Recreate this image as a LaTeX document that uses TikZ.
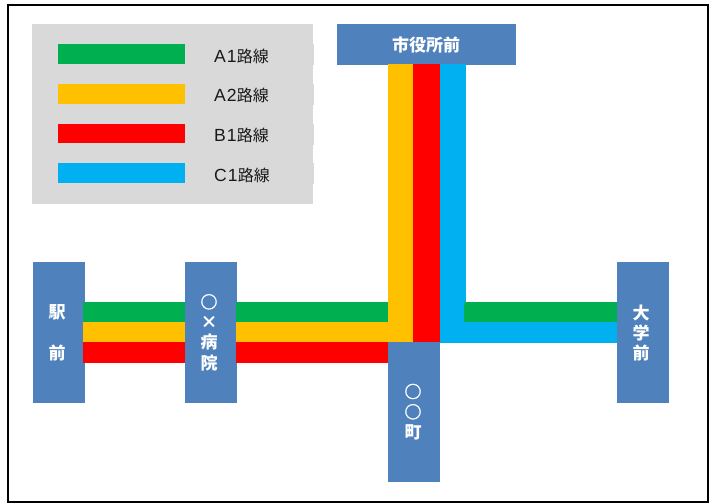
\documentclass[tikz,border=0pt]{standalone}
\usepackage{fontspec}
\setmainfont{Noto Sans CJK JP}
\newfontfamily\latinfont[LetterSpace=6,Scale=1.1]{Liberation Sans}
\newfontfamily\ringfont[FakeBold=1.5]{Noto Sans CJK JP}
\newcommand{\ringmark}{{\ringfont ○}}

\definecolor{lineGreen}{HTML}{00B050}
\definecolor{lineYellow}{HTML}{FFC000}
\definecolor{lineRed}{HTML}{FF0000}
\definecolor{lineBlue}{HTML}{00B0F0}
\definecolor{stationBlue}{HTML}{4F81BD}
\definecolor{legendGray}{HTML}{D9D9D9}

\begin{document}
\begin{tikzpicture}[x=1pt,y=-1pt]
% ---------------------------------------------------------
% Dimensions (reference pixels, y downwards)
% ---------------------------------------------------------
\def\RowA{302}     % top of green band
\def\RowB{322}     % top of yellow band
\def\RowC{342}     % top of red band
\def\RowD{363}     % bottom of red band
\def\ColA{388}     % left of yellow riser
\def\ColB{413}     % left of red riser
\def\ColC{439.5}   % left of blue riser
\def\ColD{466}     % right of blue riser
\def\RiserTop{64}  % top of the risers

% ---------------------------------------------------------
% Styles
% ---------------------------------------------------------
\tikzset{
  station box/.style={fill=stationBlue, inner sep=0pt, minimum width=52pt},
  station text/.style={text=white, align=center, inner sep=0pt,
    font=\fontsize{17}{20.3}\selectfont\bfseries},
  legend text/.style={anchor=west, inner sep=0pt, text=black!90,
    font=\fontsize{16}{16}\selectfont}
}

\useasboundingbox (0,0) rectangle (709,503);

% =========================================================
% 1) OUTER FRAME
% =========================================================
\draw[line width=2pt] (8,5) rectangle (708,501.5);

% =========================================================
% 2) LEGEND
% =========================================================
\fill[legendGray] (32,24) rectangle (313,204);
\foreach \y/\h/\c/\n/\t/\ty in {44/20/lineGreen/a/A1/56, 84/20/lineYellow/b/A2/95,
    124/19/lineRed/c/B1/135, 163/20/lineBlue/d/C1/175} {
  \fill[legendGray] (300,\y) rectangle (314,\y+21);
  \fill[\c] (58,\y) rectangle (185,\y+\h);
  \node[legend text] (legend\n) at (214,\ty) {{\latinfont\t}路線};
}

% =========================================================
% 3) STATIONS
% =========================================================
\node[station box, minimum height=141pt] (ekimae) at (59,332.5) {};
\node[station box, minimum height=141pt] (hospital) at (211,332.5) {};
\node[station box, minimum height=140pt] (town) at (414,412) {};
\node[station box, minimum height=141pt] (university) at (643,332.5) {};
\node[station box, minimum width=179pt, minimum height=41pt] (cityhall) at (426.5,44.5) {};

% =========================================================
% 4) ROUTE BANDS
% =========================================================
% West of the hospital
\fill[lineGreen]  (83,\RowA) rectangle (185,\RowB);
\fill[lineYellow] (83,\RowB) rectangle (185,\RowC);
\fill[lineRed]    (83,\RowC) rectangle (185,\RowD);

% Between the hospital and the crossing
\fill[lineGreen]  (236,\RowA) rectangle (\ColA,\RowB);
\fill[lineRed]    (236,\RowC) rectangle (\ColA,\RowD);
\fill[lineYellow] (236,\RowB) rectangle (\ColB,\RowC);

% Risers to the city hall
\fill[lineYellow] (\ColA,\RiserTop) rectangle (\ColB,\RowC);
\fill[lineRed]    (\ColB,\RiserTop) rectangle (\ColC,\RowC);
\fill[lineBlue]   (\ColC,\RiserTop) rectangle (\ColD,\RowB);

% East of the crossing
\fill[lineBlue]  (\ColC,\RowB) rectangle (617,343);
\fill[lineGreen] (464,\RowA) rectangle (617,\RowB);

% =========================================================
% 5) STATION NAMES
% =========================================================
\node[station text] (ekimaeName) at (57,332.5) {駅\\\\前};
\node[station text] (hospitalName) at (209,332.5) {\ringmark\\×\\病\\院};
\node[station text] (townName) at (413,412) {\ringmark\\\ringmark\\町};
\node[station text] (universityName) at (641,333) {大\\学\\前};
\node[station text] (cityhallName) at (426,45) {市役所前};
\end{tikzpicture}
\end{document}
